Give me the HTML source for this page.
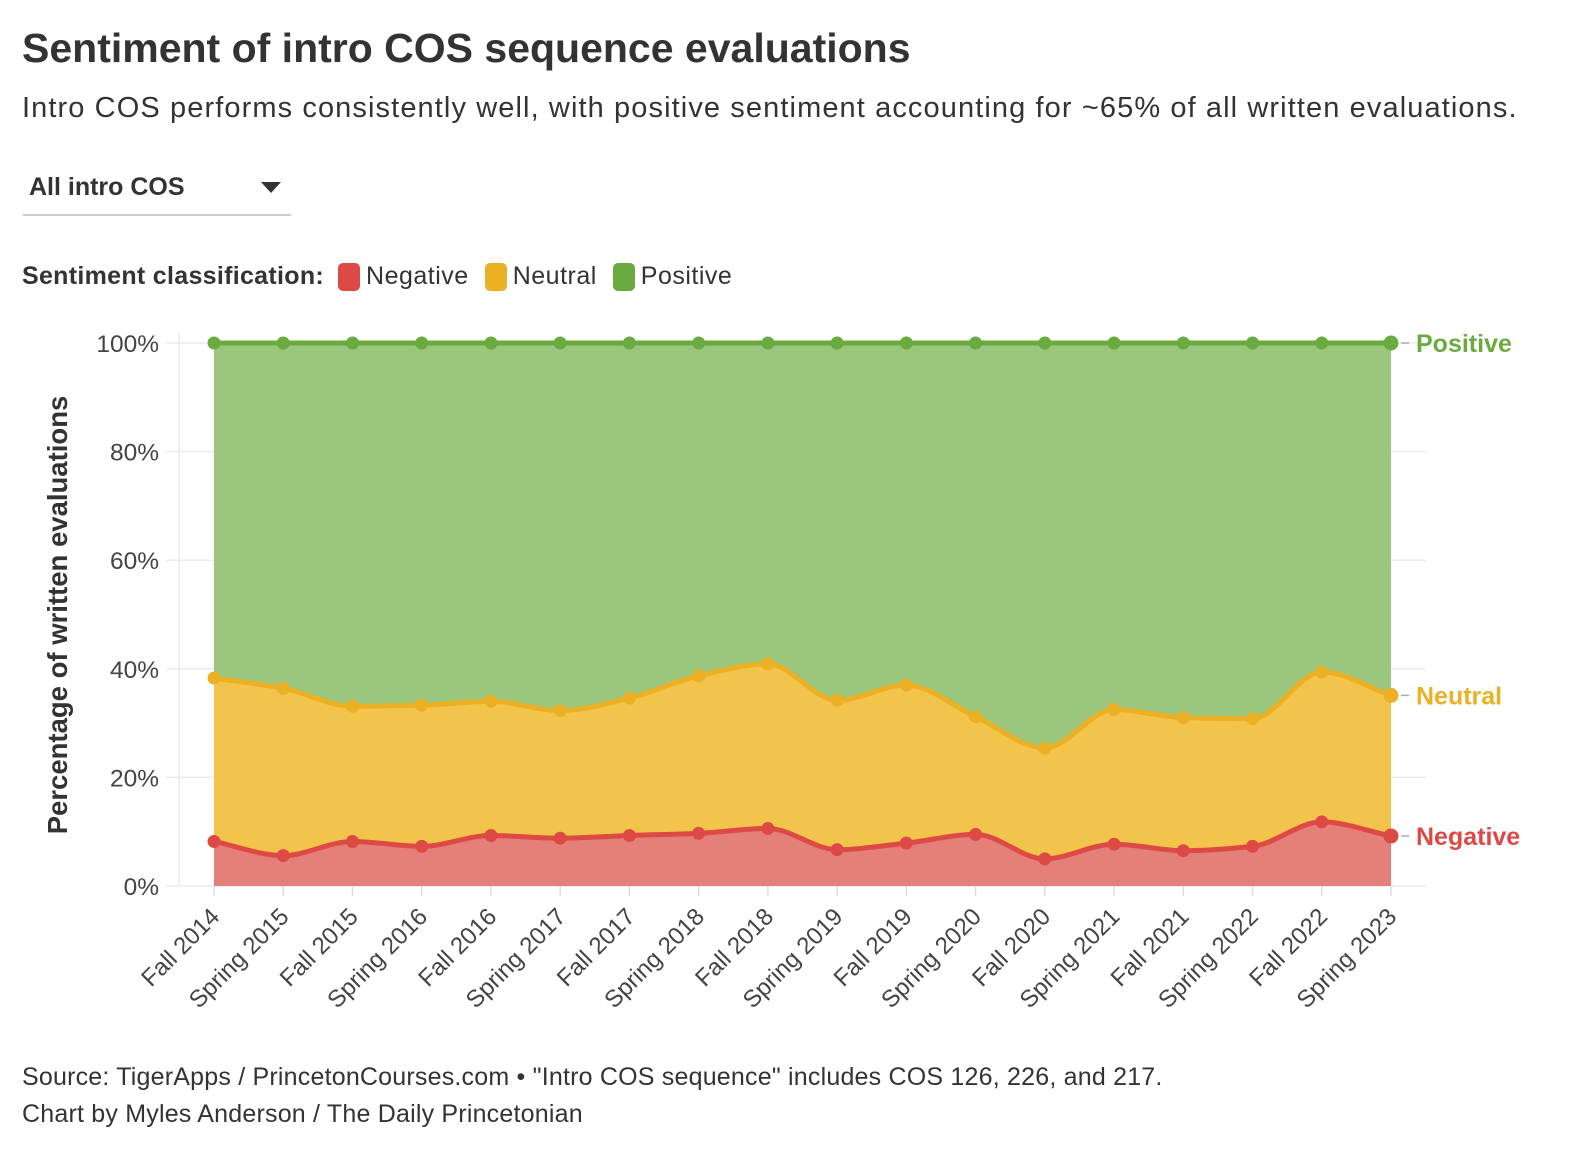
<!DOCTYPE html>
<html><head><meta charset="utf-8"><style>
body{margin:0;width:1592px;height:1150px;background:#fff;font-family:"Liberation Sans",sans-serif;color:#333;position:relative;overflow:hidden}
.abs{position:absolute;white-space:nowrap}
</style></head><body>
<div class="abs" style="left:22px;top:25px;font-size:41px;font-weight:bold;color:#333">Sentiment of intro COS sequence evaluations</div>
<div class="abs" style="left:22px;top:92px;font-size:29px;letter-spacing:1.1px;color:#333">Intro COS performs consistently well, with positive sentiment accounting for ~65% of all written evaluations.</div>
<div class="abs" style="left:23px;top:170px;width:268px;height:44px;border-bottom:2px solid #ccc">
  <span style="position:absolute;left:6px;top:3px;font-size:25px;font-weight:bold;color:#333">All intro COS</span>
  <span style="position:absolute;left:238px;top:12px;width:0;height:0;border-left:10px solid transparent;border-right:10px solid transparent;border-top:11px solid #333"></span>
</div>
<div class="abs" style="left:22px;top:262px;font-size:25px;display:flex;align-items:center">
  <span style="font-weight:bold;margin-right:14px;letter-spacing:0.3px">Sentiment classification:</span>
  <span style="display:flex;align-items:center;margin-right:16px;letter-spacing:0.5px"><i style="display:inline-block;width:22px;height:28px;border-radius:5px;background:#dd4a45;margin-right:6px"></i>Negative</span>
  <span style="display:flex;align-items:center;margin-right:16px;letter-spacing:0.5px"><i style="display:inline-block;width:22px;height:28px;border-radius:5px;background:#ecb025;margin-right:6px"></i>Neutral</span>
  <span style="display:flex;align-items:center;letter-spacing:0.5px"><i style="display:inline-block;width:22px;height:28px;border-radius:5px;background:#6aaa3f;margin-right:6px"></i>Positive</span>
</div>
<svg id="chart" width="1592" height="1150" style="position:absolute;left:0;top:0" xmlns="http://www.w3.org/2000/svg"></svg>
<div class="abs" style="left:22px;top:1063px;font-size:25px;letter-spacing:0.2px;color:#333">Source: TigerApps / PrincetonCourses.com • "Intro COS sequence" includes COS 126, 226, and 217.</div>
<div class="abs" style="left:22px;top:1100px;font-size:25px;letter-spacing:0.2px;color:#333">Chart by Myles Anderson / The Daily Princetonian</div>
<script>
const categories=["Fall 2014","Spring 2015","Fall 2015","Spring 2016","Fall 2016","Spring 2017","Fall 2017","Spring 2018","Fall 2018","Spring 2019","Fall 2019","Spring 2020","Fall 2020","Spring 2021","Fall 2021","Spring 2022","Fall 2022","Spring 2023"];
const negative=[8.2,5.6,8.2,7.3,9.3,8.8,9.3,9.7,10.6,6.7,7.9,9.5,5.0,7.7,6.5,7.3,11.8,9.2];
const neutral=[30.1,30.8,24.9,26.0,24.7,23.5,25.3,29.0,30.3,27.5,29.1,21.7,20.4,24.8,24.5,23.5,27.6,25.9];
const positive=[61.7,63.6,66.9,66.7,66.0,67.7,65.4,61.3,59.1,65.8,63.0,68.8,74.6,67.5,69.0,69.2,60.6,64.9];
const yTicks=[0,20,40,60,80,100];
const seriesNames=["Negative","Neutral","Positive"];

const svg=document.getElementById('chart');
const NS="http://www.w3.org/2000/svg";
const X0=214,X1=1391,Y0=886,Y1=343;
const xS=i=>X0+(X1-X0)*i/(categories.length-1);
const yS=v=>Y0-(Y0-Y1)*v/100;
function mk(tag,attrs,parent){const e=document.createElementNS(NS,tag);for(const k in attrs)e.setAttribute(k,attrs[k]);(parent||svg).appendChild(e);return e;}

yTicks.forEach(t=>{
  const g=mk('line',{x1:166,x2:1426,y1:yS(t),y2:yS(t),stroke:'#ebebeb','stroke-width':1.5});
  
  
  const tx=mk('text',{x:159,y:yS(t)+9,'text-anchor':'end','font-size':24.5,fill:'#444','font-family':'Liberation Sans, sans-serif'});
  tx.textContent=t+'%';
  
  
});
const ax=mk('line',{x1:179,x2:179,y1:333,y2:886,stroke:'#ebebeb','stroke-width':1.5});



const c1=negative.slice(), c2=negative.map((v,i)=>v+neutral[i]), c3=c2.map((v,i)=>v+positive[i]);
const layers=[[null,c1],[c1,c2],[c2,c3]];
const fills=['#e47f7a','#f3c44c','#9bc67e'];
const strokes=['#dd4a45','#ecb025','#6aaa3f'];

function monotone(pts){
  const n=pts.length;const dx=[],m=[],t=[];
  for(let i=0;i<n-1;i++){dx[i]=pts[i+1][0]-pts[i][0];m[i]=(pts[i+1][1]-pts[i][1])/dx[i];}
  t[0]=m[0];t[n-1]=m[n-2];
  for(let i=1;i<n-1;i++){if(m[i-1]*m[i]<=0)t[i]=0;else t[i]=3*(dx[i-1]+dx[i])/((2*dx[i]+dx[i-1])/m[i-1]+(dx[i]+2*dx[i-1])/m[i]);}
  let d='';
  for(let i=0;i<n-1;i++){const h=dx[i]/3;d+=` C${pts[i][0]+h},${pts[i][1]+t[i]*h} ${pts[i+1][0]-h},${pts[i+1][1]-t[i+1]*h} ${pts[i+1][0]},${pts[i+1][1]}`;}
  return d;
}
layers.forEach((L,k)=>{
  const top=L[1].map((v,i)=>[xS(i),yS(v)]);
  let d='M'+top[0][0]+','+top[0][1]+monotone(top);
  if(L[0]){const bot=L[0].map((v,i)=>[xS(i),yS(v)]).reverse();d+=' L'+bot[0][0]+','+bot[0][1]+monotone(bot);}
  else d+=` L${xS(categories.length-1)},${yS(0)} L${xS(0)},${yS(0)}`;
  d+='Z';
  const a=mk('path',{d:d,fill:fills[k],stroke:'none'});
  
  
});
layers.slice().reverse().forEach((L,rk)=>{
  const k=2-rk;
  const top=L[1].map((v,i)=>[xS(i),yS(v)]);
  const ln=mk('path',{d:'M'+top[0][0]+','+top[0][1]+monotone(top),fill:'none',stroke:strokes[k],'stroke-width':5});
  
  
  top.forEach((p,i)=>{
    const c=mk('circle',{cx:p[0],cy:p[1],r:i===top.length-1?7.5:6.5,fill:strokes[k]});
    
    
  });
  const ly=top[top.length-1][1];
  mk('line',{x1:1401,x2:1409,y1:ly,y2:ly,stroke:'#aaa','stroke-width':1.5});
  const lt=mk('text',{x:1416,y:ly+9,'font-size':25,'font-weight':'bold',fill:strokes[k],'font-family':'Liberation Sans, sans-serif'});
  lt.textContent=seriesNames[k];
  
  
});
categories.forEach((c,i)=>{
  const x=xS(i);
  mk('line',{x1:x,x2:x,y1:886,y2:896,stroke:'#ddd','stroke-width':1.5});
  const t=mk('text',{x:x+7,y:918,'text-anchor':'end','font-size':24,fill:'#444','font-family':'Liberation Sans, sans-serif',transform:`rotate(-45 ${x+7} 918)`});
  t.textContent=c;
  
  
});
const yt=mk('text',{x:67,y:615,'text-anchor':'middle','font-size':27.5,'font-weight':'bold',fill:'#333','font-family':'Liberation Sans, sans-serif',transform:'rotate(-90 67 615)'});
yt.textContent='Percentage of written evaluations';


</script>
</body></html>
